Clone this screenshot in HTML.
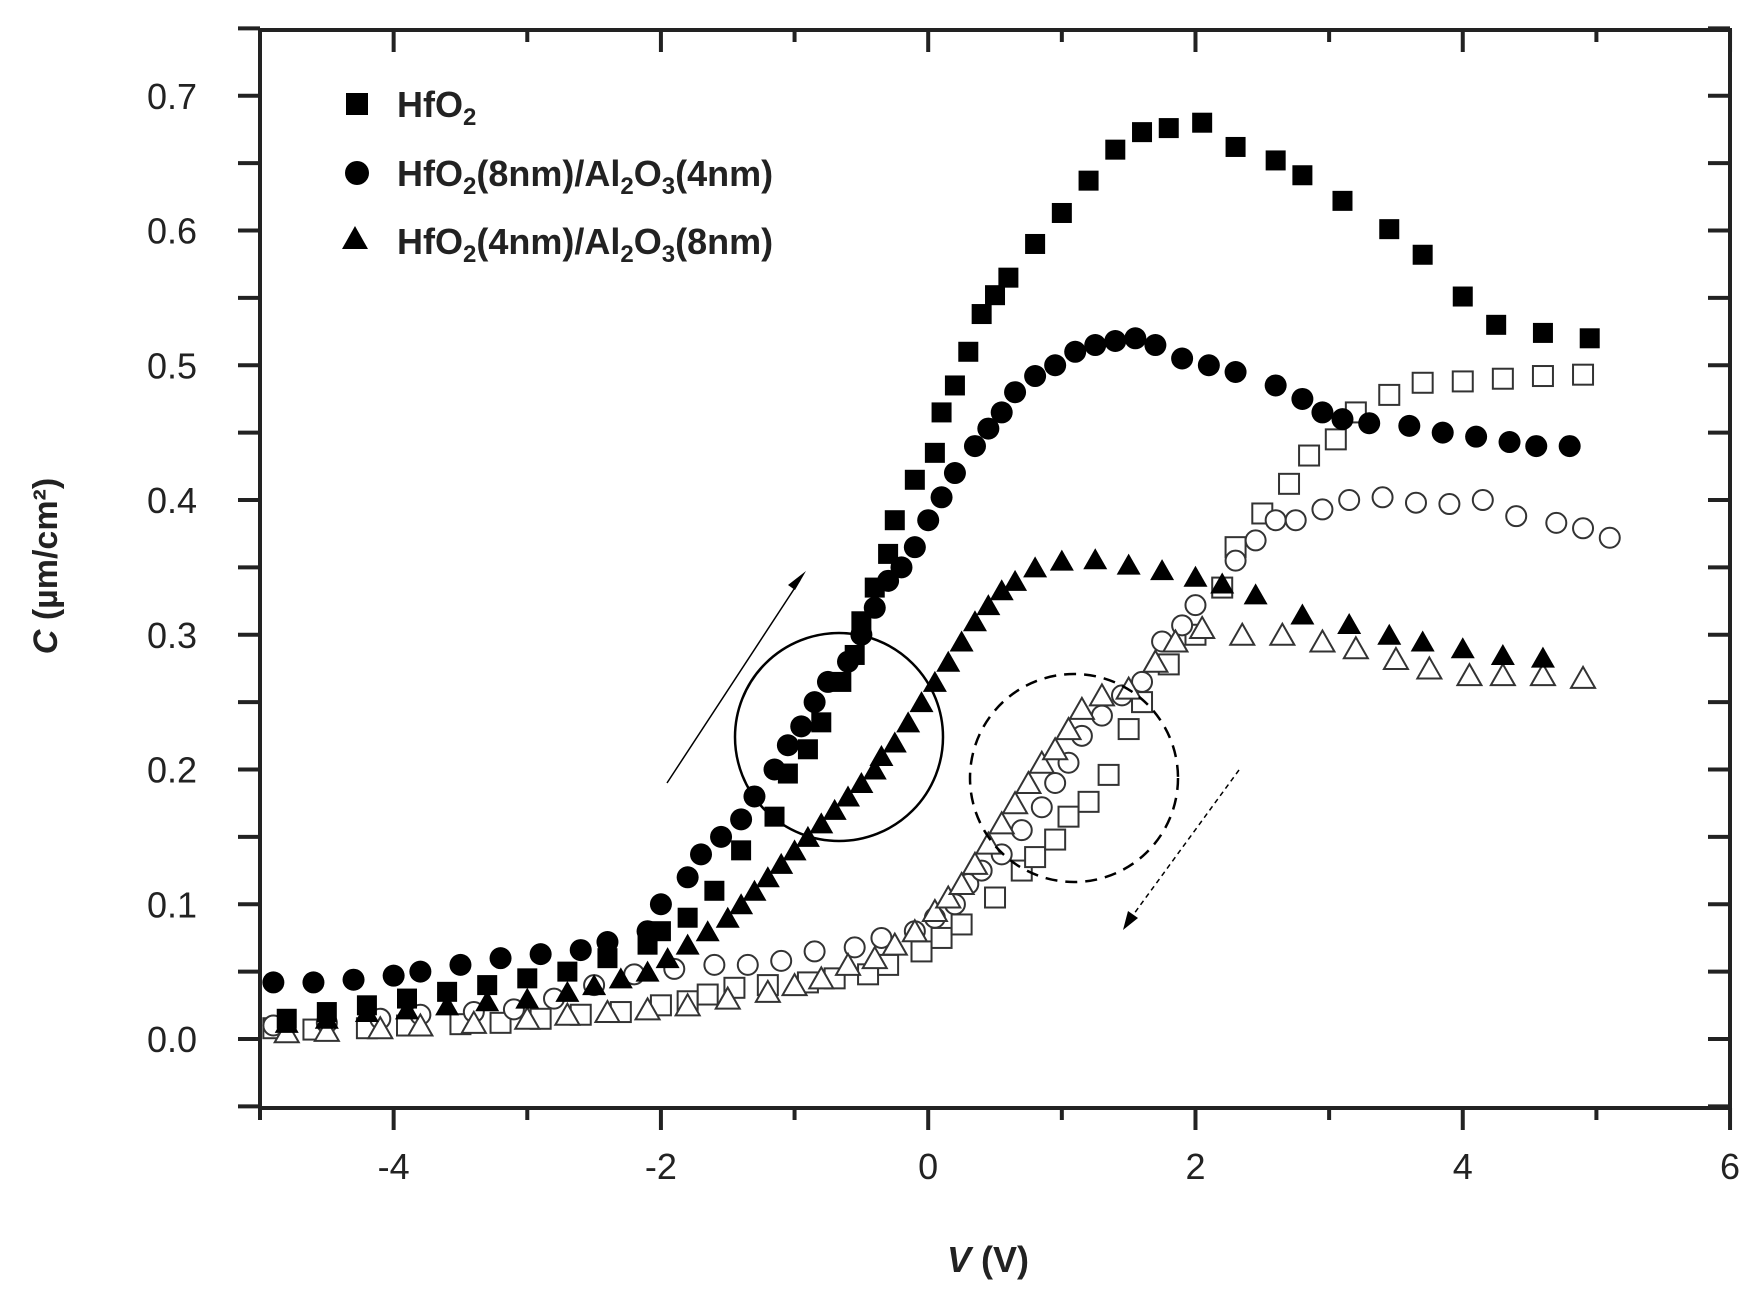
<!DOCTYPE html>
<html><head><meta charset="utf-8"><style>
html,body{margin:0;padding:0;background:#fff;}
svg{display:block;}
text{font-family:"Liberation Sans",sans-serif;fill:#222;}
</style></head><body>
<svg id="s" width="1752" height="1296" viewBox="0 0 1752 1296" xmlns="http://www.w3.org/2000/svg">
<g id="ax"></g>
<g id="pts"></g>
<!-- legend -->
<rect x="346" y="93" width="22" height="22" fill="#000"/>
<circle cx="357" cy="173" r="12" fill="#000"/>
<polygon points="355,226 368,249 342,249" fill="#000"/>
<text x="397" y="117" font-size="36" font-weight="bold">HfO<tspan font-size="24" dy="8">2</tspan></text>
<text x="397" y="186" font-size="36" font-weight="bold">HfO<tspan font-size="24" dy="8">2</tspan><tspan dy="-8">(8nm)/Al</tspan><tspan font-size="24" dy="8">2</tspan><tspan dy="-8">O</tspan><tspan font-size="24" dy="8">3</tspan><tspan dy="-8">(4nm)</tspan></text>
<text x="397" y="254" font-size="36" font-weight="bold">HfO<tspan font-size="24" dy="8">2</tspan><tspan dy="-8">(4nm)/Al</tspan><tspan font-size="24" dy="8">2</tspan><tspan dy="-8">O</tspan><tspan font-size="24" dy="8">3</tspan><tspan dy="-8">(8nm)</tspan></text>
<!-- annotations -->
<circle cx="839" cy="737" r="104" fill="none" stroke="#000" stroke-width="2.5"/>
<line x1="667" y1="783" x2="800" y2="580" stroke="#000" stroke-width="1.5"/>
<polygon points="806,571 795,590 788,585" fill="#000"/>
<circle cx="1074" cy="778" r="104" fill="none" stroke="#000" stroke-width="2.5" stroke-dasharray="12,8"/>
<line x1="1239" y1="770" x2="1128" y2="922" stroke="#000" stroke-width="1.5" stroke-dasharray="5,4"/>
<polygon points="1123,930 1128,911 1138,918" fill="#000"/>
<!-- axis labels -->
<text x="988" y="1272" font-size="36" text-anchor="middle" font-weight="bold"><tspan font-style="italic">V</tspan> (V)</text>
<text transform="translate(57,566) rotate(-90)" font-size="34" text-anchor="middle" font-weight="bold"><tspan font-style="italic">C</tspan> (µm/cm²)</text>
</svg>
<script>
const NS="http://www.w3.org/2000/svg";
const X=v=>260+(v+5)*133.64, Y=c=>1039-c*1347.5;
const ax=document.getElementById('ax'), pts=document.getElementById('pts');
function el(p,t,a){const e=document.createElementNS(NS,t);for(const k in a)e.setAttribute(k,a[k]);p.appendChild(e);return e;}
el(ax,'rect',{x:260,y:30,width:1470,height:1078,fill:'none',stroke:'#222','stroke-width':4});
for(let v=-5;v<=6;v++){const x=X(v);const maj=(v%2===0);
 el(ax,'line',{x1:x,y1:1108,x2:x,y2:1108+(maj?22:12),stroke:'#222','stroke-width':4});
 el(ax,'line',{x1:x,y1:30,x2:x,y2:30+(maj?22:12),stroke:'#222','stroke-width':4});
 if(maj&&v>-5){const t=el(ax,'text',{x:x,y:1179,'font-size':36,'text-anchor':'middle'});t.textContent=v;}}
for(let i=-1;i<=15;i++){const c=i*0.05,y=Y(c);
 el(ax,'line',{x1:238,y1:y,x2:260,y2:y,stroke:'#222','stroke-width':4});
 el(ax,'line',{x1:1708,y1:y,x2:1730,y2:y,stroke:'#222','stroke-width':4});
 if(i>=0&&i%2===0){const t=el(ax,'text',{x:197,y:y+13,'font-size':36,'text-anchor':'end'});t.textContent=c.toFixed(1);}}
function sq(v,c,f){const x=X(v),y=Y(c);el(pts,'rect',{x:x-10,y:y-10,width:20,height:20,fill:f?'#000':'#fff',stroke:f?'none':'#333','stroke-width':2});}
function ci(v,c,f){el(pts,'circle',{cx:X(v),cy:Y(c),r:f?11:10,fill:f?'#000':'#fff',stroke:f?'none':'#333','stroke-width':2});}
function tr(v,c,f){const x=X(v),y=Y(c);el(pts,'polygon',{points:`${x},${y-11} ${x+12},${y+10} ${x-12},${y+10}`,fill:f?'#000':'#fff',stroke:f?'none':'#333','stroke-width':2});}
const oS=[[-4.9,0.008],[-4.6,0.007],[-4.2,0.008],[-3.9,0.01],[-3.5,0.011],[-3.2,0.012],[-2.9,0.015],[-2.6,0.018],[-2.3,0.02],[-2.0,0.025],[-1.8,0.028],[-1.65,0.033],[-1.45,0.038],[-1.2,0.04],[-0.9,0.042],[-0.7,0.045],[-0.45,0.048],[-0.3,0.055],[-0.05,0.065],[0.1,0.075],[0.25,0.085],[0.5,0.105],[0.7,0.125],[0.8,0.135],[0.95,0.148],[1.05,0.165],[1.2,0.176],[1.35,0.196],[1.5,0.23],[1.6,0.25],[1.8,0.278],[2.0,0.3],[2.2,0.335],[2.3,0.365],[2.5,0.39],[2.7,0.412],[2.85,0.433],[3.05,0.445],[3.2,0.465],[3.45,0.478],[3.7,0.487],[4.0,0.488],[4.3,0.49],[4.6,0.492],[4.9,0.493]];
const oC=[[-4.9,0.01],[-4.5,0.012],[-4.1,0.015],[-3.8,0.018],[-3.4,0.02],[-3.1,0.022],[-2.8,0.03],[-2.5,0.04],[-2.2,0.048],[-1.9,0.052],[-1.6,0.055],[-1.35,0.055],[-1.1,0.058],[-0.85,0.065],[-0.55,0.068],[-0.35,0.075],[-0.1,0.08],[0.05,0.09],[0.2,0.1],[0.3,0.115],[0.4,0.125],[0.55,0.137],[0.7,0.155],[0.85,0.172],[0.95,0.19],[1.05,0.205],[1.15,0.225],[1.3,0.24],[1.45,0.255],[1.6,0.265],[1.75,0.295],[1.9,0.307],[2.0,0.322],[2.3,0.355],[2.45,0.37],[2.6,0.385],[2.75,0.385],[2.95,0.393],[3.15,0.4],[3.4,0.402],[3.65,0.398],[3.9,0.397],[4.15,0.4],[4.4,0.388],[4.7,0.383],[4.9,0.379],[5.1,0.372]];
const oT=[[-4.8,0.005],[-4.5,0.006],[-4.1,0.008],[-3.8,0.01],[-3.4,0.012],[-3.0,0.015],[-2.7,0.018],[-2.4,0.02],[-2.1,0.022],[-1.8,0.025],[-1.5,0.03],[-1.2,0.035],[-1.0,0.04],[-0.8,0.045],[-0.6,0.055],[-0.4,0.06],[-0.25,0.07],[-0.1,0.08],[0.05,0.095],[0.15,0.105],[0.25,0.115],[0.35,0.13],[0.45,0.145],[0.55,0.16],[0.65,0.175],[0.75,0.19],[0.85,0.205],[0.95,0.215],[1.05,0.23],[1.15,0.245],[1.3,0.255],[1.5,0.26],[1.7,0.28],[1.85,0.295],[2.05,0.305],[2.35,0.3],[2.65,0.3],[2.95,0.295],[3.2,0.29],[3.5,0.282],[3.75,0.275],[4.05,0.27],[4.3,0.27],[4.6,0.27],[4.9,0.268]];
const fS=[[-4.8,0.015],[-4.5,0.02],[-4.2,0.025],[-3.9,0.03],[-3.6,0.035],[-3.3,0.04],[-3.0,0.045],[-2.7,0.05],[-2.4,0.06],[-2.1,0.07],[-2.0,0.08],[-1.8,0.09],[-1.6,0.11],[-1.4,0.14],[-1.15,0.165],[-1.05,0.197],[-0.9,0.215],[-0.8,0.235],[-0.65,0.265],[-0.55,0.285],[-0.5,0.31],[-0.4,0.335],[-0.3,0.36],[-0.25,0.385],[-0.1,0.415],[0.05,0.435],[0.1,0.465],[0.2,0.485],[0.3,0.51],[0.4,0.538],[0.5,0.552],[0.6,0.565],[0.8,0.59],[1.0,0.613],[1.2,0.637],[1.4,0.66],[1.6,0.673],[1.8,0.676],[2.05,0.68],[2.3,0.662],[2.6,0.652],[2.8,0.641],[3.1,0.622],[3.45,0.601],[3.7,0.582],[4.0,0.551],[4.25,0.53],[4.6,0.524],[4.95,0.52]];
const fC=[[-4.9,0.042],[-4.6,0.042],[-4.3,0.044],[-4.0,0.047],[-3.8,0.05],[-3.5,0.055],[-3.2,0.06],[-2.9,0.063],[-2.6,0.066],[-2.4,0.072],[-2.1,0.08],[-2.0,0.1],[-1.8,0.12],[-1.7,0.137],[-1.55,0.15],[-1.4,0.163],[-1.3,0.18],[-1.15,0.2],[-1.05,0.218],[-0.95,0.232],[-0.85,0.25],[-0.75,0.265],[-0.6,0.28],[-0.5,0.3],[-0.4,0.32],[-0.3,0.34],[-0.2,0.35],[-0.1,0.365],[0.0,0.385],[0.1,0.402],[0.2,0.42],[0.35,0.44],[0.45,0.453],[0.55,0.465],[0.65,0.48],[0.8,0.492],[0.95,0.5],[1.1,0.51],[1.25,0.515],[1.4,0.518],[1.55,0.52],[1.7,0.515],[1.9,0.505],[2.1,0.5],[2.3,0.495],[2.6,0.485],[2.8,0.475],[2.95,0.465],[3.1,0.46],[3.3,0.457],[3.6,0.455],[3.85,0.45],[4.1,0.447],[4.35,0.443],[4.55,0.44],[4.8,0.44]];
const fT=[[-4.8,0.012],[-4.5,0.015],[-4.2,0.02],[-3.9,0.022],[-3.6,0.025],[-3.3,0.028],[-3.0,0.03],[-2.7,0.035],[-2.5,0.04],[-2.3,0.045],[-2.1,0.05],[-1.95,0.06],[-1.8,0.07],[-1.65,0.08],[-1.5,0.09],[-1.4,0.1],[-1.3,0.11],[-1.2,0.12],[-1.1,0.13],[-1.0,0.14],[-0.9,0.15],[-0.8,0.16],[-0.7,0.17],[-0.6,0.18],[-0.5,0.19],[-0.4,0.2],[-0.35,0.21],[-0.25,0.22],[-0.15,0.235],[-0.05,0.25],[0.05,0.265],[0.15,0.28],[0.25,0.295],[0.35,0.31],[0.45,0.322],[0.55,0.333],[0.65,0.34],[0.8,0.35],[1.0,0.355],[1.25,0.356],[1.5,0.352],[1.75,0.348],[2.0,0.343],[2.2,0.338],[2.45,0.33],[2.8,0.315],[3.15,0.308],[3.45,0.3],[3.7,0.295],[4.0,0.29],[4.3,0.285],[4.6,0.283]];
oS.forEach(p=>sq(p[0],p[1],0));oC.forEach(p=>ci(p[0],p[1],0));oT.forEach(p=>tr(p[0],p[1],0));
fS.forEach(p=>sq(p[0],p[1],1));fC.forEach(p=>ci(p[0],p[1],1));fT.forEach(p=>tr(p[0],p[1],1));
</script>
</body></html>
